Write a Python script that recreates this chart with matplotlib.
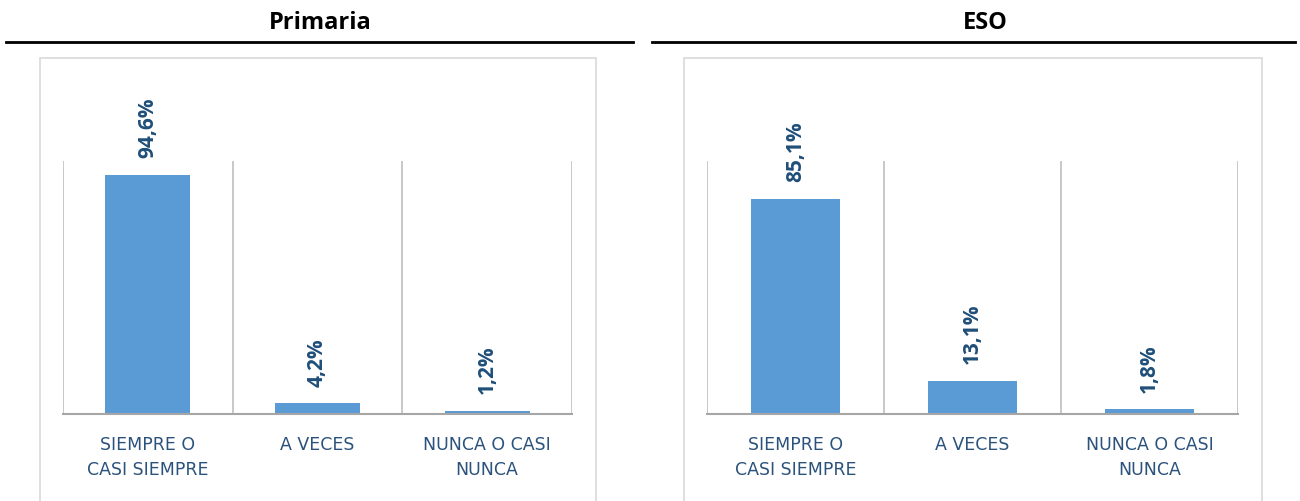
import matplotlib
matplotlib.use("Agg")
import matplotlib.pyplot as plt
from matplotlib.patches import Rectangle
from matplotlib.lines import Line2D

categories = ["SIEMPRE O\nCASI SIEMPRE", "A VECES", "NUNCA O CASI\nNUNCA"]
primaria_values = [94.6, 4.2, 1.2]
eso_values = [85.1, 13.1, 1.8]
panel_titles = ["Primaria", "ESO"]
value_labels_primaria = ["94,6%", "4,2%", "1,2%"]
value_labels_eso = ["85,1%", "13,1%", "1,8%"]

W, H = 1300, 501
fig = plt.figure(figsize=(W / 100, H / 100), dpi=100)
fig.patch.set_facecolor("white")

def fx(px):
    return px / W

def fy(py):
    return 1 - py / H

bar_color = "#5B9BD5"
label_color = "#1F4E79"
cat_color = "#2B527C"
grid_color = "#BFBFBF"

panels = [
    dict(title=panel_titles[0], values=primaria_values, labels=value_labels_primaria,
         title_x=320, line=(6, 633), frame=(40, 596), ax=(63, 572)),
    dict(title=panel_titles[1], values=eso_values, labels=value_labels_eso,
         title_x=985, line=(652, 1295), frame=(684, 1262), ax=(707, 1238)),
]

for p in panels:
    fig.text(fx(p["title_x"]), fy(23), p["title"], ha="center", va="center",
             fontsize=17, fontweight="bold", family="Open Sans", color="black")
    fig.add_artist(Line2D([fx(p["line"][0]), fx(p["line"][1])], [fy(42), fy(42)],
                          color="black", lw=2, transform=fig.transFigure))
    x0, x1 = p["frame"]
    fig.add_artist(Rectangle((fx(x0), fy(530)), fx(x1 - x0), (530 - 58) / H,
                             transform=fig.transFigure, fill=False,
                             edgecolor="#D9D9D9", lw=1.2))
    a0, a1 = p["ax"]
    ax = fig.add_axes([fx(a0), fy(414), fx(a1 - a0), (414 - 161) / H])
    ax.set_xlim(-0.5, 2.5)
    ax.set_ylim(0, 100)
    for s in ax.spines.values():
        s.set_visible(False)
    ax.set_yticks([])
    ax.set_xticks([])
    x = list(range(len(categories)))
    for b in [-0.5, 0.5, 1.5, 2.5]:
        ax.axvline(b, color=grid_color, lw=1.2, zorder=1)
    ax.axhline(0, color="#A6A6A6", lw=1.5, zorder=3, clip_on=False)
    ax.bar(x, p["values"], width=0.5, color=bar_color, zorder=2)
    for xi, v, lab in zip(x, p["values"], p["labels"]):
        ax.annotate(lab, (xi, v), xytext=(0, 12), textcoords="offset points",
                    rotation=90, ha="center", va="bottom", fontsize=15,
                    fontweight="bold", family="Open Sans", color=label_color,
                    annotation_clip=False)
    for xi, c in zip(x, categories):
        ax.annotate(c, (xi, 0), xytext=(0, -16), textcoords="offset points",
                    ha="center", va="top", fontsize=12.5, family="DejaVu Sans",
                    color=cat_color, linespacing=1.5, annotation_clip=False)

fig.savefig("out.png", dpi=100, facecolor="white")
